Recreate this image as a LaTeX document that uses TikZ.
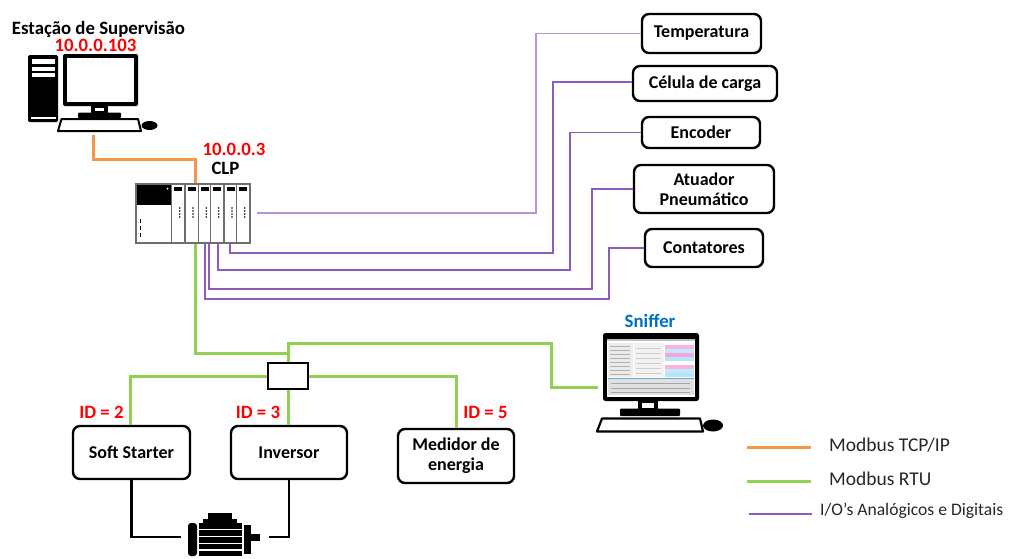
\documentclass[tikz,border=0pt]{standalone}
\usepackage{fontspec}
\setmainfont{Carlito}
\usetikzlibrary{calc}

\definecolor{tcpcol}{RGB}{247,150,70}
\definecolor{rtucol}{RGB}{146,208,80}
\definecolor{iocol}{RGB}{138,92,192}
\definecolor{iolight}{RGB}{182,148,220}
\definecolor{idred}{RGB}{255,0,0}
\definecolor{snblue}{RGB}{0,112,192}
\definecolor{plcgray}{RGB}{110,110,110}

\begin{document}
\begin{tikzpicture}[x=1pt,y=-1pt,
  devbox/.style={draw=black, line width=2.4pt, rounded corners=7pt, fill=white,
    font=\fontsize{18}{20}\selectfont\bfseries, align=center, inner sep=0pt},
  titletext/.style={font=\fontsize{18.8}{20}\selectfont\bfseries, anchor=base, inner sep=0pt},
  redtext/.style={titletext, text=idred},
  legtext/.style={font=\fontsize{19.5}{20}\selectfont, anchor=base west, inner sep=0pt, text=black!85},
  tcpline/.style={tcpcol, line width=3pt},
  rtuline/.style={rtucol, line width=3pt},
  ioline/.style={iocol, line width=1.4pt},
  iolineb/.style={iolight, line width=1.6pt},
  motorline/.style={black, line width=2.6pt},
]
\useasboundingbox (0,0) rectangle (1009,558);

% ---------- supervision workstation ----------
\fill[black, rounded corners=1.5pt] (28,55) rectangle (58,122);
\fill[white] (32,59) rectangle (55,64);
\fill[white] (32,66.5) rectangle (55,70.5);
\fill[white] (32,73) rectangle (55,77);
\fill[white] (31,116.5) rectangle (56,118.5);
\fill[black, rounded corners=2pt] (63,54) rectangle (138,106);
\fill[white] (67,58) rectangle (134,101.5);
\fill[black] (91,106) rectangle (108,113);
\fill[white] (95,107.5) rectangle (104,111);
\fill[black, rounded corners=1pt] (78,112.5) rectangle (121,118);
\draw[black, line width=2pt, fill=white, line join=round]
  (61.5,119) -- (138,119) -- (141,131) -- (58,131) -- cycle;
\fill[black] (149.5,125.5) ellipse [x radius=8pt, y radius=4.5pt];
\coordinate (pcport) at (93,135);

\node[titletext] (supname) at (98.5,34) {Estação de Supervisão};
\node[redtext] (supip) at (95.5,51) {10.0.0.103};

% ---------- PLC rack ----------
\node[redtext] (clpip) at (234,155) {10.0.0.3};
\node[titletext] (clpname) at (225.5,174) {CLP};
\draw[plcgray, line width=1.4pt, fill=white] (136,184) rectangle (250,243);
\fill[black] (137,185) rectangle (171.5,205);
\fill[white] (167.5,188.5) circle[radius=1pt];
\foreach \yy in {219,226,233}
  \draw[black, line width=1.4pt] (140.5,\yy) -- (140.5,\yy+4);
\foreach \xx in {171.7,185,198.3,210.7,224,236.7} {
  \draw[plcgray, line width=1.4pt] (\xx,184) -- (\xx,243);
  \fill[black] (\xx+2.5,187) rectangle (\xx+10.5,190.5);
  \foreach \yy in {208,211,214,217}
    \fill[black] (\xx+8,\yy) circle[radius=0.9pt];
}
\coordinate (plctop) at (195,183);
\coordinate (plcbot) at (195,244);
\coordinate (plcout) at (257,213);
\coordinate (plcp1) at (230,243);
\coordinate (plcp2) at (218,243);
\coordinate (plcp3) at (209,243);
\coordinate (plcp4) at (205,243);

% ---------- field devices ----------
\node[devbox, minimum width=119pt, minimum height=39pt] (temp) at (701.5,33.5) {Temperatura};
\node[devbox, minimum width=144pt, minimum height=35pt] (cell) at (705,83.5) {Célula de carga};
\node[devbox, minimum width=118pt, minimum height=31pt] (enc) at (701,132.5) {Encoder};
\node[devbox, minimum width=140pt, minimum height=48pt] (atu) at (704,189) {Atuador\\Pneumático};
\node[devbox, minimum width=118pt, minimum height=38pt] (cont) at (704,248) {Contatores};

% ---------- Modbus RTU slaves ----------
\node[draw=black, line width=2pt, fill=white, minimum width=40pt, minimum height=26pt, inner sep=0pt] (hub) at (288,376) {};
\node[devbox, minimum width=117pt, minimum height=53pt] (soft) at (131.5,452.5) {Soft Starter};
\node[devbox, minimum width=116pt, minimum height=53pt] (inv) at (289,452.5) {Inversor};
\node[devbox, minimum width=116pt, minimum height=54pt] (med) at (456,456) {Medidor de\\energia};
\node[redtext] (id2) at (101.5,418) {ID = 2};
\node[redtext] (id3) at (258,418) {ID = 3};
\node[redtext] (id5) at (485.5,418) {ID = 5};

% ---------- motor ----------
\coordinate (motorl) at (181,537);
\coordinate (motorr) at (269,537);
\fill[black] (208,513) rectangle (232,520);
\fill[black] (203,518.5) rectangle (237,522.5);
\fill[black, rounded corners=3pt] (188,523) rectangle (197,556);
\fill[black] (199,523) rectangle (242,556);
\foreach \yy in {529.5,536.5,543.5,550}
  \draw[white, line width=1.8pt] (199,\yy) -- (242,\yy);
\fill[black] (243.5,525) rectangle (251,554);
\fill[black] (251,533.5) rectangle (260,540.5);

% ---------- sniffer workstation ----------
\node[titletext, text=snblue] (sniffname) at (650,327) {Sniffer};
\fill[black, rounded corners=2.5pt] (603,333) rectangle (699,401);
\fill[white] (607,339) rectangle (695,396.5);
\fill[black!25] (607,339) rectangle (695,341);
\fill[black!8] (608,343) rectangle (633,377);
\fill[black!5] (634,343) rectangle (664,377);
\foreach \yy in {346,350,354,358,362,366,370,374}
  \draw[black!30, line width=0.5pt] (610,\yy) -- (630,\yy);
\foreach \yy in {348,353,358,363,368,373}
  \draw[black!20, line width=0.5pt] (636,\yy) -- (661,\yy);
\foreach \yy/\cc in {345/magenta!30,349/cyan!25,353/magenta!35,357/cyan!30,361/white,365/magenta!30,369/cyan!25,373/cyan!30}
  \fill[\cc] (665,\yy) rectangle (694,\yy+3.6);
\fill[black!12] (608,378) rectangle (694,395);
\draw[snblue!60, line width=0.6pt] (608,378.5) -- (694,378.5);
\foreach \yy in {383,388,392}
  \draw[black!35, line width=0.5pt] (611,\yy) -- (690,\yy);
\fill[black] (638,401) rectangle (658,410);
\fill[white] (642,402.5) rectangle (654,407.5);
\fill[black, rounded corners=1pt] (620,408.5) rectangle (680,416);
\draw[black, line width=2.2pt, fill=white, line join=round]
  (602,418.5) -- (700,418.5) -- (703,431.5) -- (597,431.5) -- cycle;
\fill[black] (713,425.5) ellipse [x radius=10pt, y radius=6pt];
\coordinate (snifin) at (598,387);

% ---------- connectors ----------
\draw[tcpline] (pcport) -- ++(0,24) -| (plctop);

\draw[rtuline] (plcbot) -- ++(0,109) -| (hub.north);
\draw[rtuline] (hub.north) -- ++(0,-19) -| ([xshift=-47pt]snifin) -- (snifin);
\draw[rtuline] (hub.west) -| ([xshift=-1.5pt]soft.north);
\draw[rtuline] (hub.east) -| (med.north);
\draw[rtuline] (hub.south) -- (hub.south |- inv.north);

\draw[iolineb] (plcout) -- ++(279,0) |- (temp.west);
\draw[ioline] (plcp1) -- ++(0,10) -| ([xshift=-79pt,yshift=1.5pt]cell.west) -- ([yshift=1.5pt]cell.west);
\draw[ioline] (plcp2) -- ++(0,27) -| ([xshift=-71pt]enc.west) -- (enc.west);
\draw[ioline] (plcp3) -- ++(0,46) -| ([xshift=-41pt]atu.west) -- (atu.west);
\draw[ioline] (plcp4) -- ++(0,56) -| ([xshift=-35pt]cont.west) -- (cont.west);

\draw[motorline] (soft.south) |- (motorl);
\draw[motorline] (inv.south) |- (motorr);

% ---------- legend ----------
\coordinate (lgt1) at (747,447);
\coordinate (lgt2) at (811,447);
\coordinate (lgr1) at (747,481);
\coordinate (lgr2) at (811,481);
\coordinate (lgi1) at (749,514);
\coordinate (lgi2) at (812,514);
\draw[tcpline] (lgt1) -- (lgt2);
\draw[rtuline] (lgr1) -- (lgr2);
\draw[iocol, line width=1.5pt] (lgi1) -- (lgi2);
\node[legtext] (lgtcp) at (829,451) {Modbus TCP/IP};
\node[legtext] (lgrtu) at (829,485) {Modbus RTU};
\node[legtext, font=\fontsize{17.6}{18}\selectfont] (lgio) at (820,515) {I/O’s Analógicos e Digitais};
\end{tikzpicture}
\end{document}
